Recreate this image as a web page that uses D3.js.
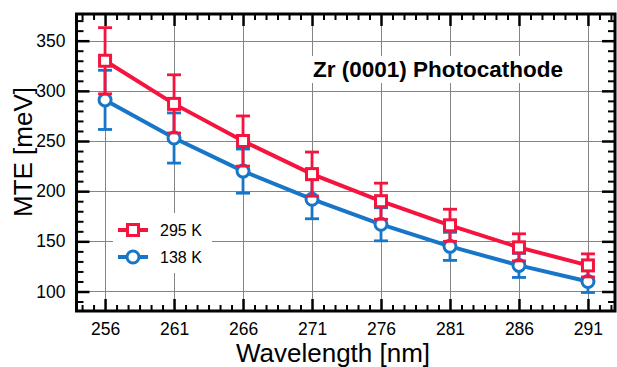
<!DOCTYPE html>
<html>
<head>
<meta charset="utf-8">
<script src="https://cdn.jsdelivr.net/npm/d3@7"></script>
<style>
  body { margin: 0; background: #fff; }
  text { font-family: "Liberation Sans", Arial, Helvetica, sans-serif; }
</style>
</head>
<body>
<div id="chart"></div>
<script>
// data
const wavelength = [256, 261, 266, 271, 276, 281, 286, 291];
const mte295 = [330, 287, 250, 217, 190, 166, 144, 126];
const err295 = [33, 29, 25, 22, 18, 16, 13.5, 11.5];
const mte138 = [291, 253, 220, 192, 167, 145, 126, 110];
const err138 = [29.5, 25, 22, 19.5, 16.5, 14, 12, 11];
const xTicks = [256, 261, 266, 271, 276, 281, 286, 291];
const yTicks = [100, 150, 200, 250, 300, 350];
const seriesLabels = ["295 K", "138 K"];
const title = "Zr (0001) Photocathode";

const W = 617, H = 367;
const mLeft = 76.5, mRight = 615, mTop = 14, mBottom = 311;
const red = "#f4143e", blue = "#1776c8";

const svg = d3.select("#chart").append("svg")
  .attr("width", W).attr("height", H);

const x = d3.scaleLinear().domain([253.93, 292.96]).range([mLeft, mRight]);
const y = d3.scaleLinear().domain([80.56, 376.6]).range([mBottom, mTop]);

// minor tick positions (6 per major step)
const xMinor = d3.range(-3, 45).map(i => 256 + i * 5 / 6)
  .filter(v => v > 254 && v < 292.9 && Math.abs((v - 256) / 5 - Math.round((v - 256) / 5)) > 0.01);
const yMinor = d3.range(90, 380, 10).filter(v => v % 50 !== 0);

// Grid
const grid = svg.append("g").attr("stroke", "#858585").attr("stroke-width", 1);
grid.selectAll(".gx").data(xTicks).enter().append("line")
  .attr("x1", d => Math.round(x(d)) + 0.5).attr("x2", d => Math.round(x(d)) + 0.5)
  .attr("y1", mTop).attr("y2", mBottom);
grid.selectAll(".gy").data(yTicks).enter().append("line")
  .attr("y1", d => Math.round(y(d)) + 0.5).attr("y2", d => Math.round(y(d)) + 0.5)
  .attr("x1", mLeft).attr("x2", mRight);

// white boxes behind title and legend
svg.append("rect").attr("x", 306).attr("y", 56).attr("width", 272).attr("height", 27).attr("fill", "#fff");
svg.append("rect").attr("x", 113).attr("y", 213).attr("width", 99).attr("height", 60).attr("fill", "#fff");

// Axes (ticks inward)
function styleAxis(g) {
  g.select(".domain").remove();
  g.selectAll(".tick line").attr("stroke", "#000").attr("stroke-width", 2.5);
  g.selectAll("text").attr("fill", "#000");
}

svg.append("g").attr("transform", `translate(0,${mBottom})`)
  .call(d3.axisBottom(x).tickValues(xTicks).tickSize(-12).tickPadding(12).tickFormat(d3.format("d")))
  .call(styleAxis).selectAll("text").style("font-size", "17.5px");
svg.append("g").attr("transform", `translate(0,${mBottom})`)
  .call(d3.axisBottom(x).tickValues(xMinor).tickSize(-6).tickFormat(""))
  .call(styleAxis).selectAll(".tick line").attr("stroke-width", 2);

svg.append("g").attr("transform", `translate(0,${mTop})`)
  .call(d3.axisTop(x).tickValues(xTicks).tickSize(-12).tickFormat(""))
  .call(styleAxis);
svg.append("g").attr("transform", `translate(0,${mTop})`)
  .call(d3.axisTop(x).tickValues(xMinor).tickSize(-6).tickFormat(""))
  .call(styleAxis).selectAll(".tick line").attr("stroke-width", 2);

svg.append("g").attr("transform", `translate(${mLeft},0)`)
  .call(d3.axisLeft(y).tickValues(yTicks).tickSize(-13).tickPadding(11).tickFormat(d3.format("d")))
  .call(styleAxis).selectAll("text").style("font-size", "17.5px");
svg.append("g").attr("transform", `translate(${mLeft},0)`)
  .call(d3.axisLeft(y).tickValues(yMinor).tickSize(-7).tickFormat(""))
  .call(styleAxis).selectAll(".tick line").attr("stroke-width", 2);

svg.append("g").attr("transform", `translate(${mRight},0)`)
  .call(d3.axisRight(y).tickValues(yTicks).tickSize(-13).tickFormat(""))
  .call(styleAxis);
svg.append("g").attr("transform", `translate(${mRight},0)`)
  .call(d3.axisRight(y).tickValues(yMinor).tickSize(-7).tickFormat(""))
  .call(styleAxis).selectAll(".tick line").attr("stroke-width", 2);

// Frame
svg.append("rect")
  .attr("x", mLeft).attr("y", mTop)
  .attr("width", mRight - mLeft).attr("height", mBottom - mTop)
  .attr("fill", "none").attr("stroke", "#000").attr("stroke-width", 3);

// Series
const series = [
  { vals: mte138, errs: err138, color: blue, shape: "circle" },
  { vals: mte295, errs: err295, color: red, shape: "square" }
];

const line = d3.line().x((d, i) => x(wavelength[i])).y(d => y(d));

function marker(g, shape, color, cx, cy) {
  if (shape === "circle") {
    g.append("circle").attr("cx", cx).attr("cy", cy).attr("r", 6)
      .attr("fill", "#fff").attr("stroke", color).attr("stroke-width", 3);
  } else {
    g.append("rect").attr("x", cx - 5.5).attr("y", cy - 5.5)
      .attr("width", 11).attr("height", 11).attr("fill", "#fff")
      .attr("stroke", color).attr("stroke-width", 3);
  }
}

series.forEach(s => {
  const g = svg.append("g");
  g.append("path").datum(s.vals)
    .attr("d", line).attr("fill", "none")
    .attr("stroke", s.color).attr("stroke-width", 4);

  const eb = g.selectAll(".eb").data(s.vals).enter().append("g")
    .attr("stroke", s.color).attr("stroke-width", 2.8);
  eb.append("line")
    .attr("x1", (d, i) => x(wavelength[i])).attr("x2", (d, i) => x(wavelength[i]))
    .attr("y1", (d, i) => y(d + s.errs[i])).attr("y2", (d, i) => y(d - s.errs[i]));
  eb.append("line")
    .attr("x1", (d, i) => x(wavelength[i]) - 7).attr("x2", (d, i) => x(wavelength[i]) + 7)
    .attr("y1", (d, i) => y(d + s.errs[i])).attr("y2", (d, i) => y(d + s.errs[i]));
  eb.append("line")
    .attr("x1", (d, i) => x(wavelength[i]) - 7).attr("x2", (d, i) => x(wavelength[i]) + 7)
    .attr("y1", (d, i) => y(d - s.errs[i])).attr("y2", (d, i) => y(d - s.errs[i]));

  s.vals.forEach((v, i) => marker(g, s.shape, s.color, x(wavelength[i]), y(v)));
});

// Title
svg.append("text")
  .attr("x", 313).attr("y", 77)
  .style("font-size", "22.5px").style("font-weight", "bold")
  .text(title);

// Legend
const legend = svg.append("g");
const legItems = [
  { label: seriesLabels[0], color: red, shape: "square", y: 230 },
  { label: seriesLabels[1], color: blue, shape: "circle", y: 257 }
];
legItems.forEach(it => {
  legend.append("line").attr("x1", 118).attr("x2", 148)
    .attr("y1", it.y).attr("y2", it.y)
    .attr("stroke", it.color).attr("stroke-width", 4);
  marker(legend, it.shape, it.color, 133, it.y);
  legend.append("text").attr("x", 160).attr("y", it.y + 6)
    .style("font-size", "16px").text(it.label);
});

// Axis titles
svg.append("text")
  .attr("x", 333).attr("y", 362)
  .attr("text-anchor", "middle").style("font-size", "26px")
  .text("Wavelength [nm]");
svg.append("text")
  .attr("transform", `translate(31.5,152) rotate(-90)`)
  .attr("text-anchor", "middle").style("font-size", "26px")
  .text("MTE [meV]");
</script>
</body>
</html>
